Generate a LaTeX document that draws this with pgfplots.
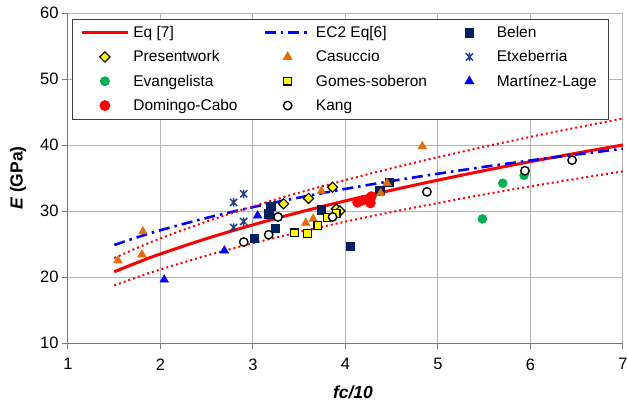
\documentclass[border=0pt]{standalone}
\usepackage{fontspec}
\setmainfont{Liberation Sans}
\usepackage{pgfplots}
\pgfplotsset{compat=1.18}

\definecolor{belen}{RGB}{0,32,96}
\definecolor{casuccio}{RGB}{228,108,10}
\definecolor{etxe}{RGB}{38,64,128}
\definecolor{evang}{RGB}{0,176,80}
\definecolor{gridgray}{RGB}{180,180,180}
\definecolor{axgray}{RGB}{120,120,120}
\definecolor{markyellow}{RGB}{255,255,0}

% star marker: a cross with a vertical bar through it
\pgfdeclareplotmark{xstar}{%
  \pgfpathmoveto{\pgfqpoint{-0.85\pgfplotmarksize}{-0.85\pgfplotmarksize}}%
  \pgfpathlineto{\pgfqpoint{0.85\pgfplotmarksize}{0.85\pgfplotmarksize}}%
  \pgfpathmoveto{\pgfqpoint{-0.85\pgfplotmarksize}{0.85\pgfplotmarksize}}%
  \pgfpathlineto{\pgfqpoint{0.85\pgfplotmarksize}{-0.85\pgfplotmarksize}}%
  \pgfpathmoveto{\pgfqpoint{0pt}{-\pgfplotmarksize}}%
  \pgfpathlineto{\pgfqpoint{0pt}{\pgfplotmarksize}}%
  \pgfusepathqstroke}

% fixed-width legend text for the first two legend columns
\newcommand\lgw[1]{\makebox[126pt][l]{#1}}

\begin{document}
\begin{tikzpicture}
\begin{axis}[
  width=555pt, height=330pt, scale only axis,
  xmin=1, xmax=7, ymin=10, ymax=60,
  xtick={1,2,...,7}, ytick={10,20,...,60},
  axis lines*=left,
  axis line style={-, axgray, line width=1pt},
  grid=major, major grid style={gridgray, line width=1pt},
  tick align=outside, major tick length=6pt,
  tick style={axgray, line width=1pt},
  ticklabel style={font=\fontsize{16.5}{19}\selectfont},
  xticklabel style={yshift=-6pt},
  /pgf/number format/assume math mode=true,
  xlabel={\textbf{\textit{fc/10}}},
  ylabel={\textbf{\textit{E}} \textbf{(GPa)}},
  label style={font=\fontsize{17.5}{20}\selectfont},
  xlabel style={at={(axis description cs:0.5135,-0.1485)}, anchor=center},
  ylabel style={at={(axis description cs:-0.090,0.5)}, anchor=center},
  legend columns=3,
  legend cell align=left,
  legend image code/.code={%
    \path (0pt,0pt) (46pt,0pt);
    \draw[mark repeat=2,mark phase=2,#1]
      plot coordinates {(0pt,0pt) (23pt,0pt) (46pt,0pt)};},
  legend style={
    at={(axis description cs:0.0072,0.982)}, anchor=north west,
    draw=black!75, line width=0.8pt, fill=white,
    font=\fontsize{15.5}{18}\selectfont,
    inner xsep=8pt, inner ysep=5pt, row sep=7.5pt, column sep=0pt,
    nodes={inner xsep=4pt},
  },
]
\coordinate (sw) at (rel axis cs:0,0);

% Eq [7]
\addplot[red, line width=3pt, smooth] coordinates {
  (1.5,20.79) (1.75,22.20) (2,23.50) (2.5,25.83) (3,27.91) (3.5,29.80)
  (4,31.54) (4.5,33.16) (5,34.68) (5.5,36.12) (6,37.48) (6.5,38.77) (7,40.01)};
\addlegendentry{\lgw{Eq [7]}}

% EC2 Eq[6]
\addplot[blue, line width=2.6pt, smooth,
  dash pattern=on 11pt off 5pt on 2.5pt off 5pt] coordinates {
  (1.5,24.85) (1.75,26.02) (2,27.09) (2.5,28.96) (3,30.59) (3.5,32.04)
  (4,33.35) (4.5,34.55) (5,35.65) (5.5,36.69) (6,37.66) (6.5,38.57) (7,39.44)};
\addlegendentry{\lgw{EC2 Eq[6]}}

% +/- 10 % band around Eq [7]
\addplot[red, line width=2pt, smooth, dash pattern=on 2pt off 3pt, forget plot] coordinates {
  (1.5,22.87) (1.75,24.42) (2,25.85) (2.5,28.41) (3,30.70) (3.5,32.78)
  (4,34.69) (4.5,36.48) (5,38.15) (5.5,39.73) (6,41.23) (6.5,42.65) (7,44.01)};
\addplot[red, line width=2pt, smooth, dash pattern=on 2pt off 3pt, forget plot] coordinates {
  (1.5,18.71) (1.75,19.98) (2,21.15) (2.5,23.25) (3,25.12) (3.5,26.82)
  (4,28.39) (4.5,29.84) (5,31.21) (5.5,32.51) (6,33.73) (6.5,34.89) (7,36.01)};

% Belen
\addplot[only marks, mark=square*, mark size=4.2pt, color=belen] coordinates {
  (3.01,25.9) (3.24,27.4) (3.17,29.6) (3.19,30.7) (3.74,30.2)
  (4.05,24.7) (4.37,33.1) (4.47,34.4)};
\addlegendentry{Belen}

% Present work
\addplot[only marks, mark=square*, mark size=3.6pt,
  mark options={rotate=45, fill=markyellow, draw=black, line width=1.2pt}] coordinates {
  (3.33,31.1) (3.60,31.9) (3.86,33.6) (3.90,30.3) (3.94,30.0)};
\addlegendentry{\lgw{Presentwork}}

% Casuccio
\addplot[only marks, mark=triangle*, mark size=5pt, color=casuccio] coordinates {
  (1.54,22.5) (1.80,23.4) (1.81,26.9) (3.57,28.2) (3.65,28.8)
  (3.74,33.0) (4.38,32.7) (4.45,34.2) (4.83,39.8)};
\addlegendentry{\lgw{Casuccio}}

% Etxeberria
\addplot[only marks, mark=xstar, mark size=4.2pt, color=etxe,
  mark options={line width=1.5pt}] coordinates {
  (2.79,31.3) (2.90,32.6) (2.79,27.5) (2.90,28.4)};
\addlegendentry{Etxeberria}

% Evangelista
\addplot[only marks, mark=*, mark size=4.5pt, color=evang] coordinates {
  (5.48,28.8) (5.70,34.2) (5.93,35.4)};
\addlegendentry{\lgw{Evangelista}}

% Gomes-soberon
\addplot[only marks, mark=square*, mark size=3.8pt,
  mark options={fill=markyellow, draw=black, line width=1.2pt}] coordinates {
  (3.45,26.7) (3.59,26.6) (3.70,27.8) (3.80,29.0) (3.90,29.6)};
\addlegendentry{\lgw{Gomes-soberon}}

% Martinez-Lage
\addplot[only marks, mark=triangle*, mark size=5pt, color=blue] coordinates {
  (2.04,19.6) (2.69,24.0) (3.05,29.3)};
\addlegendentry{Martínez-Lage}

% Domingo-Cabo
\addplot[only marks, mark=*, mark size=5pt, color=red] coordinates {
  (4.13,31.3) (4.18,31.6) (4.27,31.2) (4.28,32.2)};
\addlegendentry{\lgw{Domingo-Cabo}}

% Kang
\addplot[only marks, mark=*, mark size=4.2pt,
  mark options={fill=white, draw=black, line width=1.4pt}] coordinates {
  (2.90,25.3) (3.17,26.4) (3.27,29.1) (3.86,29.1) (4.88,32.9)
  (5.94,36.1) (6.45,37.7)};
\addlegendentry{\lgw{Kang}}
\end{axis}
\pgfresetboundingbox
\path[use as bounding box] (sw) ++(-68pt,-64pt) rectangle ++(627pt,407pt);
\end{tikzpicture}
\end{document}
